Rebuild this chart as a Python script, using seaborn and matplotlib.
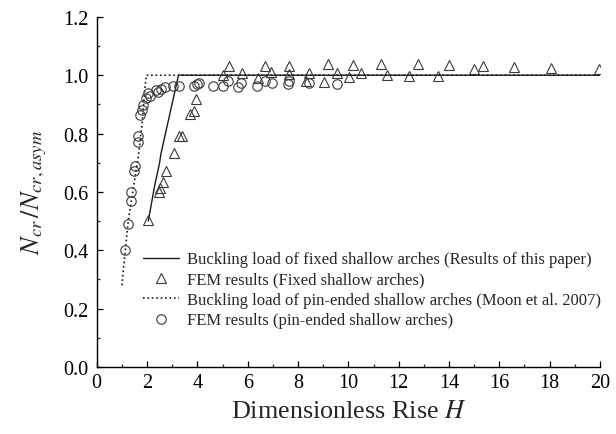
"""
Buckling load of shallow arches vs dimensionless rise
"""

import numpy as np
import pandas as pd
import seaborn as sns
import matplotlib as mpl
mpl.use("Agg")
import matplotlib.pyplot as plt
from matplotlib.ticker import MultipleLocator

# -------------------------
# Data
# -------------------------
# Analytical curve, fixed arches (this paper)
fixed_H = [2.05, 2.3, 2.5, 2.55, 3.25, 20.0]
fixed_N = [0.50, 0.62, 0.70, 0.73, 1.00, 1.00]

# FEM results, fixed arches
fem_fixed_H = [2.04, 2.48, 2.52, 2.64, 2.77, 3.06, 3.28, 3.37, 3.72, 3.85, 3.94,
               5.02, 5.27, 5.77, 6.40, 6.68, 6.94, 7.65, 7.65, 8.30, 8.45,
               9.05, 9.20, 9.55, 10.02, 10.18, 10.50, 11.30, 11.55, 12.43,
               12.76, 13.55, 14.00, 15.00, 15.37, 16.60, 18.05, 19.97]
fem_fixed_N = [0.505, 0.600, 0.612, 0.635, 0.673, 0.733, 0.790, 0.792, 0.868,
               0.878, 0.917, 1.000, 1.030, 1.008, 0.990, 1.030, 1.010, 1.033,
               1.005, 0.980, 1.008, 0.977, 1.040, 1.008, 0.994, 1.035, 1.008,
               1.040, 1.000, 0.997, 1.037, 0.997, 1.034, 1.020, 1.033, 1.028,
               1.025, 1.022]

# Analytical curve, pin-ended arches (Moon et al. 2007)
pin_H = [1.00, 1.25, 1.45, 1.65, 1.80, 1.90, 1.97, 20.0]
pin_N = [0.28, 0.50, 0.61, 0.72, 0.83, 0.94, 1.00, 1.00]

# FEM results, pin-ended arches
fem_pin_H = [1.11, 1.25, 1.38, 1.38, 1.48, 1.51, 1.64, 1.64, 1.71, 1.78, 1.84,
             1.97, 2.04, 2.11, 2.37, 2.44, 2.57, 2.70, 3.05, 3.28, 3.85, 3.97,
             4.05, 4.63, 5.02, 5.22, 5.62, 5.75, 6.38, 6.68, 6.95, 7.61, 7.65,
             8.44, 9.53]
fem_pin_N = [0.400, 0.490, 0.570, 0.600, 0.670, 0.690, 0.770, 0.792, 0.862,
             0.882, 0.898, 0.922, 0.938, 0.930, 0.948, 0.943, 0.953, 0.958,
             0.964, 0.964, 0.964, 0.970, 0.973, 0.964, 0.963, 0.980, 0.960,
             0.973, 0.964, 0.980, 0.973, 0.970, 0.980, 0.973, 0.970]

labels = ["Buckling load of fixed shallow arches (Results of this paper)",
          "FEM results (Fixed shallow arches)",
          "Buckling load of pin-ended shallow arches (Moon et al. 2007)",
          "FEM results (pin-ended shallow arches)"]

# -------------------------
# Configuration
# -------------------------
sns.set_theme(style="ticks")
plt.rcParams['font.family'] = ['Liberation Serif', 'DejaVu Serif']
plt.rcParams['mathtext.fontset'] = 'stix'
mpl.rcParams['xtick.direction'] = 'in'
mpl.rcParams['ytick.direction'] = 'in'

# -------------------------
# Plot
# -------------------------
fig = plt.figure(figsize=(6.16, 4.35), dpi=100)
ax = fig.add_axes([0.157, 0.154, 0.817, 0.805])

ink = '#1a1a1a'
mk = '#3a3a3a'
sns.lineplot(x=fixed_H, y=fixed_N, ax=ax, color=ink, lw=1.0,
             estimator=None, sort=False, label=labels[0])
sns.lineplot(x=fem_fixed_H, y=fem_fixed_N, ax=ax, color=mk, lw=0,
             marker='^', ms=7.5, mfc='none', mec=mk, mew=0.8,
             estimator=None, sort=False, label=labels[1])
sns.lineplot(x=pin_H, y=pin_N, ax=ax, color=ink, lw=1.2, ls=':',
             estimator=None, sort=False, label=labels[2])
sns.lineplot(x=fem_pin_H, y=fem_pin_N, ax=ax, color=mk, lw=0,
             marker='o', ms=6.8, mfc='none', mec=mk, mew=0.8,
             estimator=None, sort=False, label=labels[3])

# Axes
ax.set_xlim(0, 20)
ax.set_ylim(0, 1.2)
ax.xaxis.set_major_locator(MultipleLocator(2))
ax.xaxis.set_minor_locator(MultipleLocator(1))
ax.yaxis.set_major_locator(MultipleLocator(0.2))
ax.yaxis.set_minor_locator(MultipleLocator(0.1))
ax.set_yticklabels([f"{v:.1f}" for v in ax.get_yticks()])
ax.tick_params(which='major', length=4.5, width=0.9, labelsize=14.5,
               colors='black', pad=4)
ax.tick_params(axis='y', which='major', pad=6)
ax.tick_params(which='minor', length=2.5, width=0.9)
for s in ['top', 'right']:
    ax.spines[s].set_visible(False)
for s in ['left', 'bottom']:
    ax.spines[s].set_linewidth(1.0)
    ax.spines[s].set_color('black')

ax.set_xlabel(r"Dimensionless Rise $\mathit{H}$", fontsize=18.8, labelpad=6)
ax.set_ylabel(r"$N_{cr}\,/N_{cr,asym}$", fontsize=19, labelpad=10)

leg = ax.legend(loc='upper left', bbox_to_anchor=(0.0915, 0.33),
                frameon=False, fontsize=12, handlelength=2.2,
                handletextpad=0.45, labelspacing=0.26, borderpad=0,
                borderaxespad=0)

fig.savefig("out.png", dpi=100)
